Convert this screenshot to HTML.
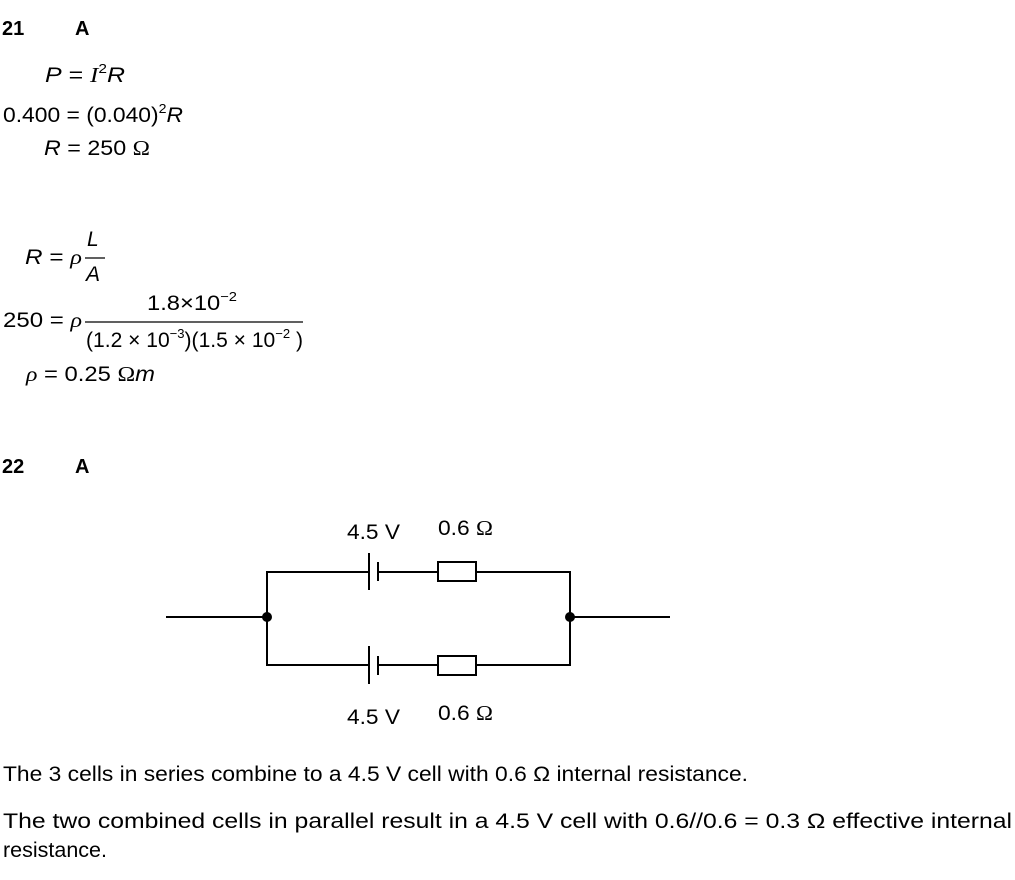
<!DOCTYPE html>
<html><head><meta charset="utf-8"><style>
html,body{margin:0;padding:0;background:#fff;}
svg{display:block;font-family:"Liberation Sans",sans-serif;}
</style></head><body>
<svg width="1015" height="880" viewBox="0 0 1015 880" xmlns="http://www.w3.org/2000/svg">
<g font-size="21" fill="#000">
<text x="2" y="35" font-size="20" font-weight="bold">21</text>
<text x="75" y="35" font-size="20" font-weight="bold">A</text>
<text x="45" y="82" textLength="80" lengthAdjust="spacingAndGlyphs"><tspan font-style="italic">P</tspan> = <tspan font-family="Liberation Serif" font-style="italic">I</tspan><tspan font-size="13" dy="-9">2</tspan><tspan dy="9" font-style="italic">R</tspan></text>
<text x="3" y="122" textLength="180" lengthAdjust="spacingAndGlyphs">0.400 = (0.040)<tspan font-size="13" dy="-9">2</tspan><tspan dy="9" font-style="italic">R</tspan></text>
<text x="44" y="155" textLength="106" lengthAdjust="spacingAndGlyphs"><tspan font-style="italic">R</tspan> = 250 <tspan font-family="Liberation Serif">Ω</tspan></text>

<text x="25" y="264" textLength="57" lengthAdjust="spacingAndGlyphs"><tspan font-style="italic">R</tspan> = <tspan font-family="Liberation Serif" font-style="italic">ρ</tspan></text>
<text x="87" y="246" font-style="italic">L</text>
<line x1="85" y1="258" x2="105" y2="258" stroke="#000" stroke-width="1.2"/>
<text x="86" y="281" font-style="italic">A</text>

<text x="3" y="327" textLength="79" lengthAdjust="spacingAndGlyphs">250 = <tspan font-family="Liberation Serif" font-style="italic">ρ</tspan></text>
<text x="147" y="310" textLength="90" lengthAdjust="spacingAndGlyphs">1.8×10<tspan font-size="13" dy="-9">−2</tspan></text>
<line x1="85" y1="322" x2="303" y2="322" stroke="#000" stroke-width="1.2"/>
<text x="86" y="347" textLength="217" lengthAdjust="spacingAndGlyphs">(1.2 × 10<tspan font-size="13" dy="-9">−3</tspan><tspan dy="9">)(1.5 × 10</tspan><tspan font-size="13" dy="-9">−2</tspan><tspan dy="9"> )</tspan></text>
<text x="26" y="381" textLength="129" lengthAdjust="spacingAndGlyphs"><tspan font-family="Liberation Serif" font-style="italic">ρ</tspan> = 0.25 <tspan font-family="Liberation Serif">Ω</tspan><tspan font-style="italic">m</tspan></text>

<text x="2" y="473" font-size="20" font-weight="bold">22</text>
<text x="75" y="473" font-size="20" font-weight="bold">A</text>

<text x="347" y="539" textLength="53" lengthAdjust="spacingAndGlyphs">4.5 V</text>
<text x="438" y="535" textLength="55" lengthAdjust="spacingAndGlyphs">0.6 <tspan font-family="Liberation Serif">Ω</tspan></text>
<text x="347" y="724" textLength="53" lengthAdjust="spacingAndGlyphs">4.5 V</text>
<text x="438" y="720" textLength="55" lengthAdjust="spacingAndGlyphs">0.6 <tspan font-family="Liberation Serif">Ω</tspan></text>

<text x="3" y="781" textLength="745" lengthAdjust="spacingAndGlyphs">The 3 cells in series combine to a 4.5 V cell with 0.6 Ω internal resistance.</text>
<text x="3" y="828" textLength="1009" lengthAdjust="spacingAndGlyphs">The  two  combined  cells  in  parallel  result  in  a  4.5  V  cell  with  0.6//0.6  =  0.3  Ω  effective  internal</text>
<text x="3" y="857" textLength="104" lengthAdjust="spacingAndGlyphs">resistance.</text>
</g>
<g stroke="#000" stroke-width="2" fill="none">
<line x1="166" y1="617" x2="267" y2="617"/>
<line x1="570" y1="617" x2="670" y2="617"/>
<polyline points="369,572 267,572 267,665 369,665"/>
<polyline points="378,572 438,572"/>
<polyline points="476,572 570,572 570,665 476,665"/>
<polyline points="378,665 438,665"/>
<line x1="369" y1="553" x2="369" y2="590"/>
<line x1="378" y1="562" x2="378" y2="581"/>
<line x1="369" y1="646" x2="369" y2="684"/>
<line x1="378" y1="656" x2="378" y2="675"/>
<rect x="438" y="562" width="38" height="19"/>
<rect x="438" y="656" width="38" height="19"/>
</g>
<circle cx="267" cy="617" r="5" fill="#000"/>
<circle cx="570" cy="617" r="5" fill="#000"/>
</svg>
</body></html>
